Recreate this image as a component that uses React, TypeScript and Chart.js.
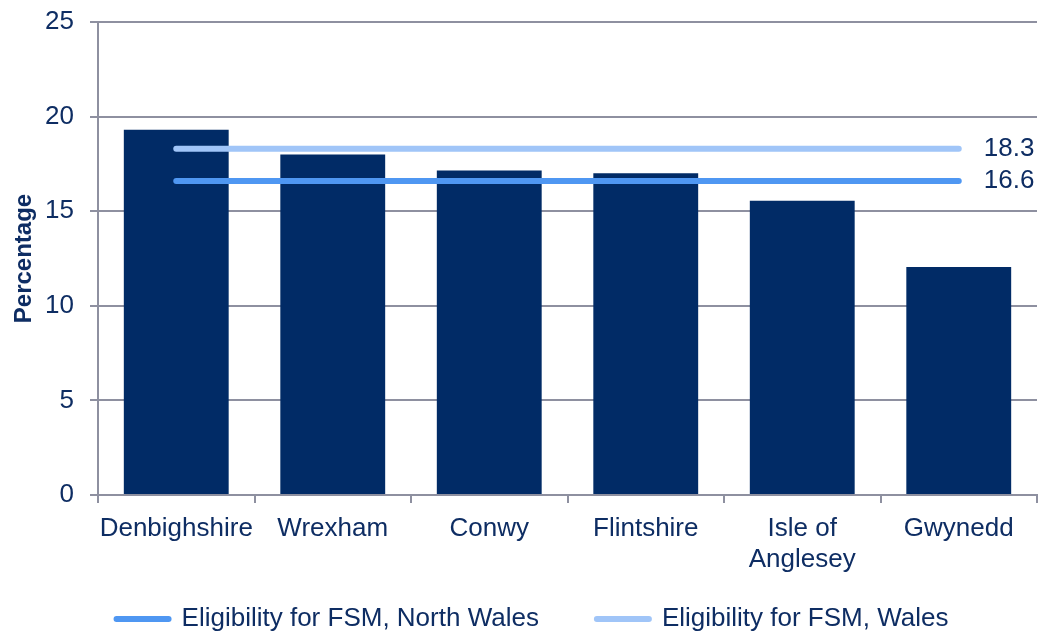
import React, { useEffect, useRef } from "react";
import { Chart, registerables } from "chart.js";

Chart.register(...registerables);

const categories: (string | string[])[] = [
  "Denbighshire",
  "Wrexham",
  "Conwy",
  "Flintshire",
  ["Isle of", "Anglesey"],
  "Gwynedd",
];
const fsmByAuthority = [19.3, 18.0, 17.15, 17.0, 15.55, 12.05];
const northWalesValue = 16.6;
const walesValue = 18.3;
const northWalesLine = categories.map(() => northWalesValue);
const walesLine = categories.map(() => walesValue);
const yTicks = [0, 5, 10, 15, 20, 25];

const TEXT = "#0E2D63";
const GRID = "#8E90A0";
const FONT = "'Liberation Sans', Arial, sans-serif";
const LEGEND_HEIGHT = 62;
const LEGEND_SHIFT_Y = -25;
const LEGEND_SHIFT_X = 11;

const endLabels = {
  id: "endLabels",
  afterLayout(chart: any) {
    const lg = chart.legend;
    if (lg) {
      lg.top += LEGEND_SHIFT_Y;
      lg.left += LEGEND_SHIFT_X;
      lg.right += LEGEND_SHIFT_X;
    }
  },
  afterDatasetsDraw(chart: any) {
    const ctx = chart.ctx;
    chart.data.datasets.forEach((ds: any, i: number) => {
      if (ds.type !== "line") return;
      const meta = chart.getDatasetMeta(i);
      const pts = meta.data;
      if (!pts.length) return;
      const last = pts[pts.length - 1];
      const v = ds.data[ds.data.length - 1];
      ctx.save();
      ctx.font = `26px ${FONT}`;
      ctx.fillStyle = TEXT;
      ctx.textAlign = "left";
      ctx.textBaseline = "middle";
      ctx.fillText(v.toFixed(1), last.x + 25, last.y);
      ctx.restore();
    });
  },
};

export default function App() {
  const ref = useRef<HTMLCanvasElement | null>(null);
  useEffect(() => {
    document.body.style.margin = "0";
    document.body.style.overflow = "hidden";
    if (!ref.current) return;
    const chart = new Chart(ref.current, {
      type: "bar",
      data: {
        labels: categories as any,
        datasets: [
          {
            type: "line",
            label: "Eligibility for FSM, North Wales",
            data: northWalesLine,
            borderColor: "#4F97F2",
            backgroundColor: "#4F97F2",
            borderWidth: 6,
            borderCapStyle: "round",
            pointRadius: 0,
            order: 1,
          } as any,
          {
            type: "line",
            label: "Eligibility for FSM, Wales",
            data: walesLine,
            borderColor: "#A0C5F8",
            backgroundColor: "#A0C5F8",
            borderWidth: 6,
            borderCapStyle: "round",
            pointRadius: 0,
            order: 1,
          } as any,
          {
            type: "bar",
            label: "FSM",
            data: fsmByAuthority,
            backgroundColor: "#012B66",
            categoryPercentage: 1,
            barPercentage: 0.67,
            order: 2,
          } as any,
        ],
      },
      options: {
        animation: false,
        responsive: true,
        maintainAspectRatio: false,
        layout: { padding: { top: 22, right: -3, left: 0, bottom: 0 } },
        plugins: {
          tooltip: { enabled: false },
          legend: {
            position: "bottom",
            labels: {
              color: TEXT,
              font: { family: FONT, size: 26 },
              usePointStyle: true,
              pointStyle: "line",
              pointStyleWidth: 52,
              padding: 58,
              filter: (item: any) => item.text !== "FSM",
              generateLabels: (chart: any) => {
                const items = Chart.defaults.plugins.legend.labels.generateLabels(chart);
                return items.map((it: any) => {
                  const ds = chart.data.datasets[it.datasetIndex];
                  return {
                    ...it,
                    pointStyle: "line",
                    lineWidth: 6,
                    lineCap: "round",
                    strokeStyle: ds.borderColor,
                    fillStyle: ds.borderColor,
                  };
                });
              },
            },
          },
        },
        scales: {
          x: {
            afterFit: (scale: any) => {
              scale.height = 78;
              scale.paddingLeft = 0;
              scale.paddingRight = 0;
            },
            grid: {
              drawOnChartArea: false,
              drawTicks: true,
              tickLength: 8,
              color: GRID,
              lineWidth: 2,
              offset: true,
            },
            border: { color: GRID, width: 2 },
            ticks: {
              color: TEXT,
              font: { family: FONT, size: 26 },
              maxRotation: 0,
              autoSkip: false,
              padding: 10,
            },
          },
          y: {
            min: 0,
            max: 25,
            afterBuildTicks: (scale: any) => {
              scale.ticks = yTicks.map((v) => ({ value: v }));
            },
            afterFit: (scale: any) => {
              scale.width = 98;
              scale.paddingTop = 0;
              scale.paddingBottom = 0;
            },
            grid: { color: GRID, lineWidth: 2, tickLength: 8 },
            border: { color: GRID, width: 2 },
            ticks: {
              color: TEXT,
              font: { family: FONT, size: 26 },
              padding: 16,
            },
            title: {
              display: true,
              text: "Percentage",
              color: TEXT,
              font: { family: FONT, size: 24, weight: "bold" },
              padding: { top: 10, bottom: 0 },
            },
          },
        },
      },
      plugins: [endLabels],
    });
    const lg: any = chart.legend;
    if (lg) {
      const origFit = lg.fit;
      lg.fit = function (this: any) {
        origFit.call(this);
        this.height = LEGEND_HEIGHT;
      };
      chart.update();
    }
    return () => chart.destroy();
  }, []);
  return (
    <div style={{ position: "relative", width: 1040, height: 635, overflow: "hidden" }}>
      <canvas ref={ref} style={{ display: "block" }} />
    </div>
  );
}
